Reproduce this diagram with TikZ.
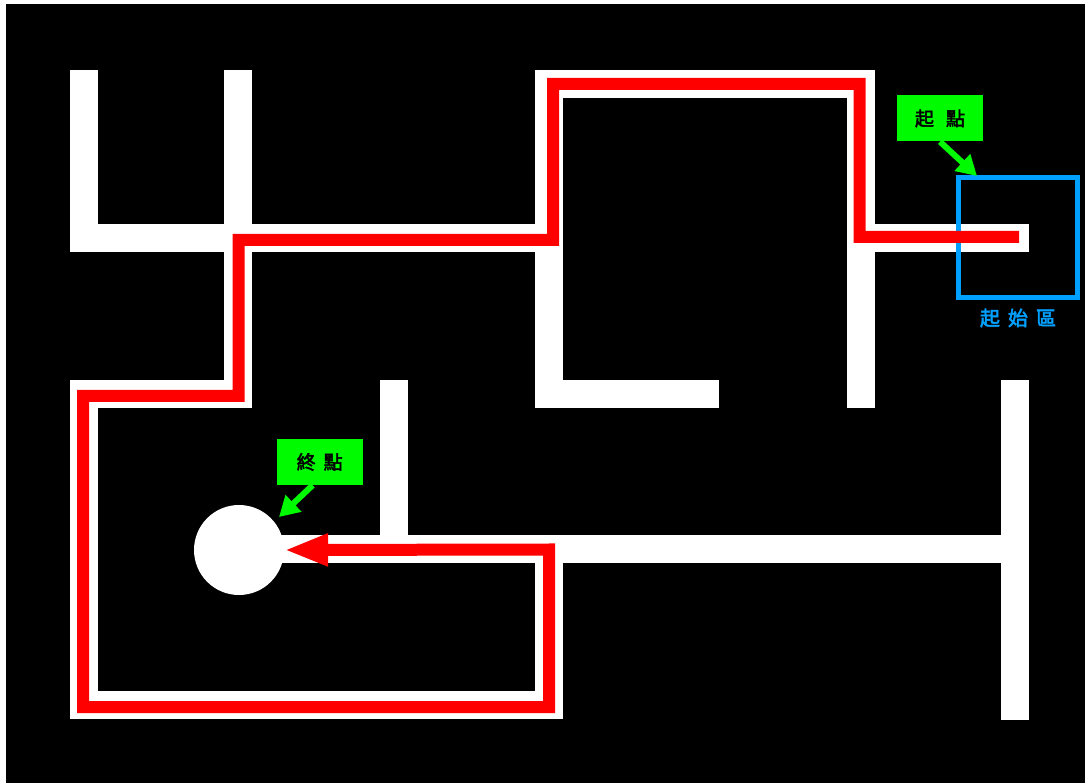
\documentclass[tikz,border=0pt]{standalone}
\usepackage{fontspec}
\newfontfamily\cjk{Noto Sans CJK TC}[FakeBold=2.5]
\usetikzlibrary{arrows.meta}
\definecolor{wallwhite}{RGB}{255,255,255}
\definecolor{routered}{RGB}{255,0,0}
\definecolor{tagGreen}{RGB}{0,250,0}
\definecolor{zoneblue}{RGB}{0,160,255}
\tikzset{
  wall/.style={fill=wallwhite, draw=none},
  route/.style={draw=routered, line width=12pt, line join=miter,
    -{Triangle[length=44pt, width=30pt]}},
  tag/.style={fill=tagGreen, draw=none, font=\cjk\fontsize{19pt}{20pt}\selectfont,
    text=black, minimum width=86pt, minimum height=46pt, inner sep=0pt},
  pointer/.style={draw=tagGreen, line width=6pt,
    -{Triangle[length=20pt, width=22pt]}},
  zone/.style={draw=zoneblue, line width=5pt, minimum width=119pt,
    minimum height=120pt, inner sep=0pt},
  zonetext/.style={text=zoneblue, font=\cjk\fontsize{20pt}{22pt}\selectfont}
}
\begin{document}
\begin{tikzpicture}[x=1pt, y=-1pt]
  % page and black field
  \useasboundingbox (0,0) rectangle (1085,783);
  \fill[white] (0,0) rectangle (1085,783);
  \fill[black] (6,4) rectangle (1085,783);

  % maze walls
  \fill[wall] (70,70) rectangle (98,252);
  \fill[wall] (224,70) rectangle (252,408);
  \fill[wall] (70,224) rectangle (563,252);
  \fill[wall] (70,380) rectangle (252,408);
  \fill[wall] (535,70) rectangle (563,408);
  \fill[wall] (535,70) rectangle (875,98);
  \fill[wall] (847,70) rectangle (875,408);
  \fill[wall] (535,380) rectangle (719,408);
  \fill[wall] (847,224) rectangle (1029,252);
  \fill[wall] (70,380) rectangle (98,719);
  \fill[wall] (70,691) rectangle (563,719);
  \fill[wall] (535,535) rectangle (563,719);
  \fill[wall] (380,380) rectangle (408,563);
  \fill[wall] (250,535) rectangle (1029,563);
  \fill[wall] (1001,380) rectangle (1029,720);

  % goal disc
  \node[circle, fill=wallwhite, minimum size=90pt, inner sep=0pt] (goal) at (239,550) {};

  % start zone
  \node[zone] (startzone) at (1018,237.5) {};
  \node[zonetext] (zonelabel) at (1018,318) {起\hspace{8pt}始\hspace{8pt}區};

  % solution route
  \coordinate (startpt) at (1019,237);
  \draw[route] (startpt) -- (859.5,237) -- (859.5,84) -- (553,84) -- (553,240)
    -- (238.5,240) -- (238.5,396) -- (83,396) -- (83,707) -- (549,707)
    -- (549,549.5) -- (goal.east);

  % labels with pointers
  \node[tag] (starttag) at (940,118.5) {起\hspace{12pt}點};
  \coordinate (starttip) at (977,176);
  \draw[pointer] (starttag.south) -- (starttip);

  \node[tag] (goaltag) at (319.7,462) {終\hspace{8pt}點};
  \coordinate (goaltip) at (279,517);
  \draw[pointer] ([xshift=-7pt]goaltag.south) -- (goaltip);
\end{tikzpicture}
\end{document}
